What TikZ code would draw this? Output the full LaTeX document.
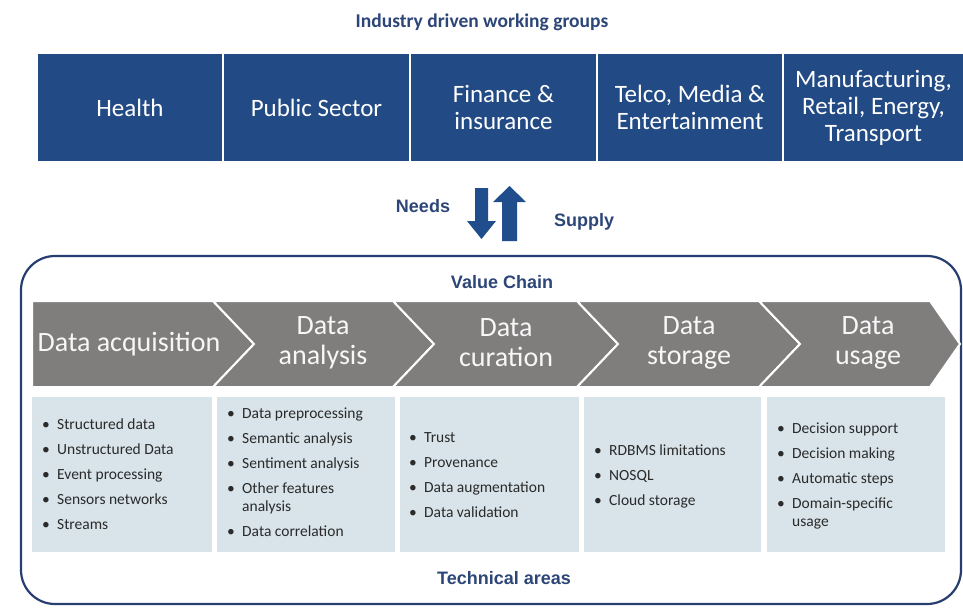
\documentclass[tikz,border=0pt]{standalone}
\usepackage{fontspec}
\setmainfont{Carlito}
\newfontfamily\arialf{Liberation Sans}
\definecolor{topblue}{RGB}{34,74,133}
\definecolor{titleblue}{RGB}{45,70,120}
\definecolor{arrowblue}{RGB}{32,78,140}
\definecolor{framenavy}{RGB}{40,62,112}
\definecolor{chevgray}{RGB}{128,125,125}
\definecolor{lightbox}{RGB}{216,228,234}
\definecolor{itemtext}{RGB}{42,42,42}
\newcommand\itm[1]{\makebox[15pt][l]{\textbullet}#1}
\newcommand\itc[1]{\hspace*{15pt}#1}
\tikzset{
  groupbox/.style={fill=topblue, inner sep=0pt, minimum height=107pt, text=white, align=center, font=\fontsize{25}{27}\selectfont},
  chev/.style={fill=chevgray, draw=white, line width=2pt, line join=miter},
  chevlabel/.style={text=white!94!gray, align=center, font=\fontsize{28}{30}\selectfont},
  areabox/.style={fill=lightbox, inner sep=0pt, minimum height=155pt},
  itemlist/.style={anchor=west, align=left, inner sep=0pt, text=itemtext, font=\fontsize{15.5}{25}\selectfont},
  heading/.style={text=titleblue, font=\arialf\bfseries\fontsize{18}{20}\selectfont},
  bigarrow/.style={fill=arrowblue, draw=none}
}
\begin{document}
\begin{tikzpicture}[x=1pt,y=-1pt]
\useasboundingbox (0,0) rectangle (963,608);
\fill[white] (0,0) rectangle (963,608);

% title
\node[text=titleblue, font=\bfseries\fontsize{19.5}{22}\selectfont] (title) at (482,22) {Industry driven working groups};

% industry groups
\node[groupbox, minimum width=184pt] (health) at (130,107.5) {Health};
\node[groupbox, minimum width=185pt] (public) at (316.5,107.5) {Public Sector};
\node[groupbox, minimum width=185pt] (finance) at (503.5,107.5) {Finance \&\\insurance};
\node[groupbox, minimum width=184pt] (telco) at (690,107.5) {Telco, Media \&\\Entertainment};
\node[groupbox, minimum width=179pt] (manuf) at (873.5,107.5) {Manufacturing,\\Retail, Energy,\\Transport};

% needs / supply arrows
\path[bigarrow] (475,188) -- (488,188) -- (488,221) -- (496,221) -- (481.5,239) -- (467,221) -- (475,221) -- cycle;
\path[bigarrow] (502,241) -- (517,241) -- (517,202) -- (526,202) -- (509.5,186) -- (493,202) -- (502,202) -- cycle;
\node[heading] (needs) at (423,206) {Needs};
\node[heading] (supply) at (584,222) {Supply};

% value chain frame
\draw[framenavy, line width=2.2pt, rounded corners=34pt] (21,256) rectangle (961,604);
\node[heading] (vc) at (502,282) {Value Chain};

% chevrons
\path[chev] (32,301) -- (213,301) -- (254,344) -- (213,387) -- (32,387) -- cycle;
\path[chev] (213,301) -- (393,301) -- (434,344) -- (393,387) -- (213,387) -- (254,344) -- cycle;
\path[chev] (393,301) -- (577,301) -- (618,344) -- (577,387) -- (393,387) -- (434,344) -- cycle;
\path[chev] (577,301) -- (759,301) -- (800,344) -- (759,387) -- (577,387) -- (618,344) -- cycle;
\path[chev] (759,301) -- (930,301) -- (960,344) -- (930,387) -- (759,387) -- (800,344) -- cycle;
\node[chevlabel] (acq) at (129,344) {Data acquisition};
\node[chevlabel] (ana) at (323,343) {Data\\analysis};
\node[chevlabel] (cur) at (506,343) {Data\\curation};
\node[chevlabel] (sto) at (689,343) {Data\\storage};
\node[chevlabel] (use) at (868,343) {Data\\usage};

% technical area boxes
\node[areabox, minimum width=180pt] (b1) at (122,474.5) {};
\node[areabox, minimum width=178pt] (b2) at (306,474.5) {};
\node[areabox, minimum width=179pt] (b3) at (489.5,474.5) {};
\node[areabox, minimum width=177pt] (b4) at (672.5,474.5) {};
\node[areabox, minimum width=178pt] (b5) at (856,474.5) {};

\node[itemlist] (l1) at (42,474.5) {\itm{Structured data}\\\itm{Unstructured Data}\\\itm{Event processing}\\\itm{Sensors networks}\\\itm{Streams}};
\node[itemlist] (l2) at (227,472.5) {\itm{Data preprocessing}\\\itm{Semantic analysis}\\\itm{Sentiment analysis}\\\itm{Other features}\\[-7pt]\itc{analysis}\\\itm{Data correlation}};
\node[itemlist] (l3) at (409,475) {\itm{Trust}\\\itm{Provenance}\\\itm{Data augmentation}\\\itm{Data validation}};
\node[itemlist] (l4) at (594,476) {\itm{RDBMS limitations}\\\itm{NOSQL}\\\itm{Cloud storage}};
\node[itemlist] (l5) at (777,476) {\itm{Decision support}\\\itm{Decision making}\\\itm{Automatic steps}\\\itm{Domain-specific}\\[-7pt]\itc{usage}};

\node[heading] (tech) at (504,578) {Technical areas};
\end{tikzpicture}
\end{document}
